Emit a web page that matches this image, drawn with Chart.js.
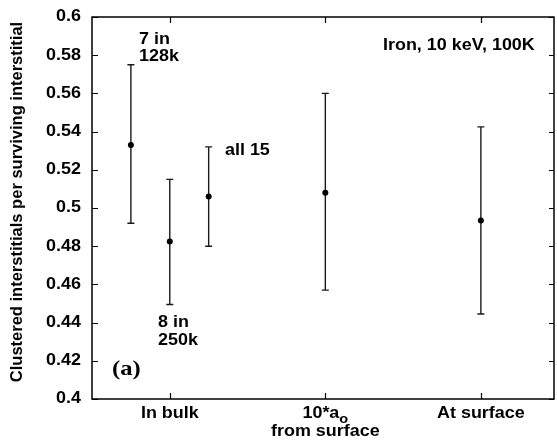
<!DOCTYPE html>
<html>
<head>
<meta charset="utf-8">
<script src="https://cdn.jsdelivr.net/npm/chart.js@4/dist/chart.umd.min.js"></script>
<style>
	html, body { margin: 0; padding: 0; background: #fff; }
</style>
</head>
<body>
<canvas id="chart" width="557" height="446"></canvas>
<script>
// categories on the x axis ("_" marks a subscript, "\n" a new line)
const categories = ['In bulk', '10*a_o\nfrom surface', 'At surface'];
const categoryPos = [0, 1, 2];

// the five measurements: x position (category units), mean and error bar ends
const pointX = [-0.25, 0, 0.25, 1, 2];
const means = [0.533, 0.4825, 0.506, 0.508, 0.4935];
const lows = [0.492, 0.4495, 0.480, 0.457, 0.4445];
const highs = [0.575, 0.515, 0.532, 0.560, 0.5425];

const yTicks = [0.4, 0.42, 0.44, 0.46, 0.48, 0.5, 0.52, 0.54, 0.56, 0.58, 0.6];

const yTitle = 'Clustered interstitials per surviving interstitial';

const sans = '"Liberation Sans", Arial, sans-serif';
const SX = 1.12; // the figure is a little wider than tall

// draw text stretched sideways a bit, like the scanned figure
function drawText(ctx, text, x, y, align, font) {
	ctx.save();
	ctx.font = font;
	ctx.textBaseline = 'middle';
	ctx.textAlign = 'left';
	const w = ctx.measureText(text).width * SX;
	let left = x;
	if (align === 'center') left = x - w / 2;
	if (align === 'right') left = x - w;
	ctx.translate(left, y);
	ctx.scale(SX, 1);
	ctx.fillText(text, 0, 0);
	ctx.restore();
	return w;
}

function drawSubText(ctx, text, cx, cy) {
	// text with "_x" subscript, centred at cx
	const parts = text.split('_');
	const main = parts[0];
	const sub = parts[1] || '';
	const f1 = 'bold 16px ' + sans;
	const f2 = 'bold 13px ' + sans;
	ctx.font = f1;
	const w1 = ctx.measureText(main).width * SX;
	ctx.font = f2;
	const w2 = ctx.measureText(sub).width * SX;
	const x = cx - (w1 + w2) / 2;
	drawText(ctx, main, x, cy, 'left', f1);
	if (sub) drawText(ctx, sub, x + w1, cy + 5, 'left', f2);
}

const errorBars = {
	id: 'errorBars',
	beforeDatasetsDraw(chart) {
		const ctx = chart.ctx;
		const xs = chart.scales.x, ys = chart.scales.y;
		ctx.save();
		ctx.strokeStyle = '#1a1a1a';
		ctx.lineWidth = 1.4;
		pointX.forEach((x, i) => {
			const px = xs.getPixelForValue(x);
			const top = ys.getPixelForValue(highs[i]);
			const bot = ys.getPixelForValue(lows[i]);
			ctx.beginPath();
			ctx.moveTo(px, top); ctx.lineTo(px, bot);
			ctx.moveTo(px - 3.5, top); ctx.lineTo(px + 3.5, top);
			ctx.moveTo(px - 3.5, bot); ctx.lineTo(px + 3.5, bot);
			ctx.stroke();
		});
		ctx.restore();
	},
	afterDraw(chart) {
		const ctx = chart.ctx;
		const a = chart.chartArea;
		const xs = chart.scales.x, ys = chart.scales.y;
		ctx.save();
		ctx.strokeStyle = '#000';
		ctx.lineWidth = 1.5;
		ctx.strokeRect(a.left, a.top, a.right - a.left, a.bottom - a.top);

		// inward tick marks
		ctx.lineWidth = 1.2;
		ctx.beginPath();
		yTicks.forEach((v) => {
			const py = Math.round(ys.getPixelForValue(v)) + 0.5;
			ctx.moveTo(a.left, py); ctx.lineTo(a.left + 6, py);
			ctx.moveTo(a.right, py); ctx.lineTo(a.right - 5, py);
		});
		categoryPos.forEach((c) => {
			const px = Math.round(xs.getPixelForValue(c)) + 0.5;
			ctx.moveTo(px, a.bottom); ctx.lineTo(px, a.bottom - 6);
			ctx.moveTo(px, a.top); ctx.lineTo(px, a.top + 6);
		});
		ctx.stroke();

		ctx.fillStyle = '#000';
		const f16 = 'bold 16px ' + sans;

		// y tick labels
		yTicks.forEach((v) => {
			drawText(ctx, String(+v.toFixed(2)), a.left - 11, ys.getPixelForValue(v), 'right', f16);
		});

		// y axis title
		ctx.save();
		ctx.translate(17, 202);
		ctx.rotate(-Math.PI / 2);
		ctx.font = 'bold 16.5px ' + sans;
		ctx.textAlign = 'center';
		ctx.textBaseline = 'middle';
		ctx.fillText(yTitle, 0, 0);
		ctx.restore();

		// category labels
		categories.forEach((label, i) => {
			const px = xs.getPixelForValue(categoryPos[i]);
			label.split('\n').forEach((line, j) => {
				drawSubText(ctx, line, px, a.bottom + 15 + j * 18);
			});
		});

		// annotations
		drawText(ctx, '7 in', 139, 40, 'left', f16);
		drawText(ctx, '128k', 139, 57, 'left', f16);
		drawText(ctx, 'all 15', 225, 151, 'left', f16);
		drawText(ctx, '8 in', 158, 323, 'left', f16);
		drawText(ctx, '250k', 158, 341, 'left', f16);
		drawText(ctx, 'Iron, 10 keV, 100K', 383, 46, 'left', f16);
		drawText(ctx, '(a)', 112, 369, 'left', 'bold 22px "Liberation Serif", "Times New Roman", serif');
		ctx.restore();
	}
};

new Chart(document.getElementById('chart'), {
	type: 'scatter',
	data: {
		datasets: [{
			data: pointX.map((x, i) => ({x: x, y: means[i]})),
			pointRadius: 3,
			pointHoverRadius: 3,
			backgroundColor: '#000',
			borderColor: '#000',
			borderWidth: 0,
			showLine: false,
		}]
	},
	options: {
		responsive: false,
		animation: false,
		devicePixelRatio: 1,
		layout: {padding: {top: 17, right: 0, bottom: 0, left: 0}},
		plugins: {legend: {display: false}, tooltip: {enabled: false}},
		scales: {
			x: {
				type: 'linear',
				min: -0.5,
				max: 2.47,
				ticks: {display: false},
				grid: {display: false, drawTicks: false},
				border: {display: false},
				afterFit: (s) => { s.height = 47; },
			},
			y: {
				min: 0.4,
				max: 0.6,
				afterBuildTicks: (s) => { s.ticks = yTicks.map((v) => ({value: v})); },
				ticks: {display: false},
				grid: {display: false, drawTicks: false},
				border: {display: false},
				afterFit: (s) => { s.width = 92; },
			}
		}
	},
	plugins: [errorBars],
});
</script>
</body>
</html>
